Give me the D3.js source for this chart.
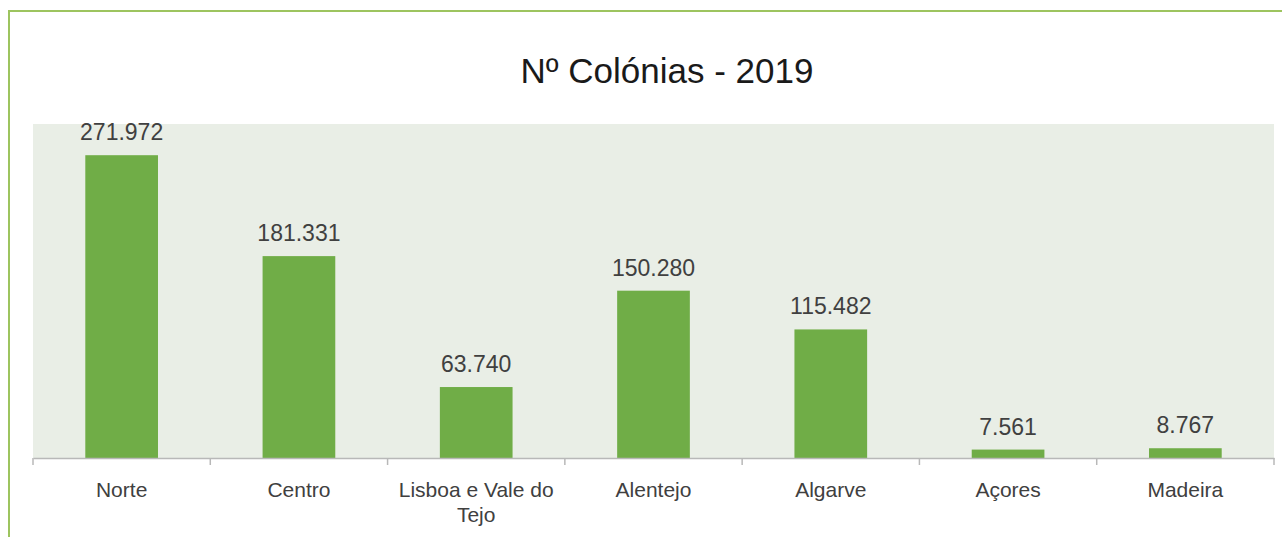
<!DOCTYPE html>
<html><head><meta charset="utf-8">
<script src="https://cdn.jsdelivr.net/npm/d3@7/dist/d3.min.js"></script>
<style>body{margin:0;background:#fff;}svg{display:block;}</style>
</head><body>
<svg id="c" width="1282" height="537"></svg>
<script>
const categories = ["Norte","Centro","Lisboa e Vale do Tejo","Alentejo","Algarve","Açores","Madeira"];
const values = [271972,181331,63740,150280,115482,7561,8767];
const valueLabels = ["271.972","181.331","63.740","150.280","115.482","7.561","8.767"];
const title = "Nº Colónias - 2019";

const svg = d3.select("#c");
const W=1282,H=537;
svg.append("rect").attr("width",W).attr("height",H).attr("fill","#fff");
svg.append("path").attr("d","M9,537 V11 H1282").attr("fill","none").attr("stroke","#9dc45f").attr("stroke-width",2);

const x0=33,x1=1274,yTop=124,yBase=458;
svg.append("rect").attr("x",x0).attr("y",yTop).attr("width",x1-x0).attr("height",yBase-yTop).attr("fill","#e9eee6");

const x = d3.scaleBand().domain(categories).range([x0,x1]).paddingInner(0).paddingOuter(0);
const y = d3.scaleLinear().domain([0,300000]).range([yBase,yTop]);
const bw = x.bandwidth()*0.41;

svg.selectAll(".bar").data(values).enter().append("rect")
 .attr("x",(d,i)=>x(categories[i])+x.bandwidth()/2-bw/2)
 .attr("y",d=>y(d)).attr("width",bw).attr("height",d=>yBase-y(d))
 .attr("fill","#70ad47");

svg.selectAll(".vl").data(values).enter().append("text")
 .attr("x",(d,i)=>x(categories[i])+x.bandwidth()/2)
 .attr("y",d=>y(d)-15)
 .attr("text-anchor","middle").attr("font-family","Liberation Sans, Arial, sans-serif")
 .attr("font-size",23).attr("fill","#404040").text((d,i)=>valueLabels[i]);

const ax = svg.append("g").attr("transform",`translate(0,${yBase})`).call(d3.axisBottom(x).tickSize(0).tickFormat(""));
ax.select(".domain").attr("stroke","#b8b8b8").attr("stroke-width",1.5);
const tickPos = categories.map(c=>x(c)).concat([x1]);
svg.selectAll(".tk").data(tickPos).enter().append("line")
 .attr("x1",d=>d).attr("x2",d=>d).attr("y1",yBase).attr("y2",yBase+7)
 .attr("stroke","#b8b8b8").attr("stroke-width",1.5);

const labelLines = categories.map(c=> c==="Lisboa e Vale do Tejo" ? ["Lisboa e Vale do","Tejo"] : [c]);
categories.forEach((c,i)=>{
  const t = svg.append("text").attr("text-anchor","middle")
    .attr("font-family","Liberation Sans, Arial, sans-serif").attr("font-size",21).attr("fill","#404040");
  labelLines[i].forEach((ln,j)=>{
    t.append("tspan").attr("x",x(c)+x.bandwidth()/2).attr("y",497+j*25).text(ln);
  });
});

svg.append("text").attr("x",667).attr("y",83).attr("text-anchor","middle")
 .attr("font-family","Liberation Sans, Arial, sans-serif").attr("font-size",35)
 .attr("fill","#1a1a1a").text(title);
</script>
</body></html>
